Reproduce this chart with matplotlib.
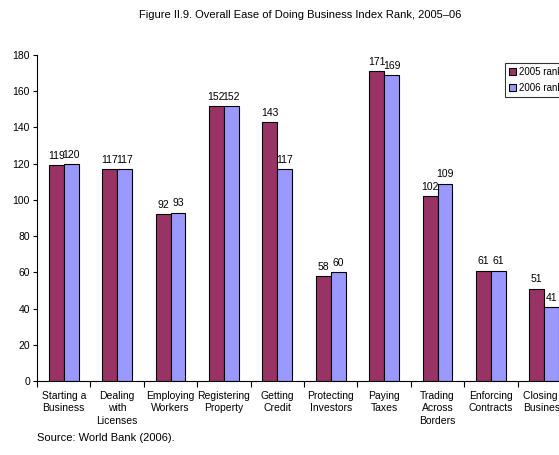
import numpy as np
import matplotlib
matplotlib.use("Agg")
from matplotlib import pyplot as plt

plt.rcParams['font.family'] = ['Liberation Sans', 'DejaVu Sans']

categories = ["Starting a\nBusiness", "Dealing\nwith\nLicenses", "Employing\nWorkers",
              "Registering\nProperty", "Getting\nCredit", "Protecting\nInvestors",
              "Paying\nTaxes", "Trading\nAcross\nBorders", "Enforcing\nContracts",
              "Closing a\nBusiness"]
rank_2005 = [119, 117, 92, 152, 143, 58, 171, 102, 61, 51]
rank_2006 = [120, 117, 93, 152, 117, 60, 169, 109, 61, 41]
series_names = ["2005 rank", "2006 rank"]
y_ticks = [0, 20, 40, 60, 80, 100, 120, 140, 160, 180]

W, H = 559, 455
fig = plt.figure(figsize=(W / 100, H / 100), dpi=100)
# axes run past the right edge of the figure, like the clipped original
left, right, top, bottom = 37, 571, 55, 381
ax = fig.add_axes([left / W, 1 - bottom / H, (right - left) / W, (bottom - top) / H])

x = np.arange(len(categories))
bw = 0.28
b1 = ax.bar(x - bw / 2, rank_2005, bw, color="#993366", edgecolor="black", linewidth=0.8,
            label=series_names[0])
b2 = ax.bar(x + bw / 2, rank_2006, bw, color="#9999FF", edgecolor="black", linewidth=0.8,
            label=series_names[1])
for bars in (b1, b2):
    for r in bars:
        ax.annotate(f"{int(r.get_height())}", (r.get_x() + r.get_width() / 2, r.get_height()),
                    xytext=(0, 3), textcoords="offset points", ha="center", va="bottom",
                    fontsize=7.5)

ax.set_xlim(-0.5, len(categories) - 0.5)
ax.set_ylim(0, 180)
ax.set_yticks(y_ticks)
ax.tick_params(axis="y", labelsize=7.5, length=3, width=0.8, direction="out", pad=2)

# category labels centred, tick marks at the group boundaries
ax.set_xticks(x)
ax.set_xticklabels(categories, fontsize=7.5, linespacing=1.3)
ax.tick_params(axis="x", which="major", length=0, pad=7)
ax.set_xticks(np.arange(len(categories) + 1) - 0.5, minor=True)
ax.tick_params(axis="x", which="minor", length=4, width=0.8, direction="out")

for s in ["top", "right"]:
    ax.spines[s].set_visible(False)
for s in ["left", "bottom"]:
    ax.spines[s].set_linewidth(0.8)

leg = ax.legend(loc="upper left", bbox_to_anchor=(505 / W, 1 - 63 / H),
                bbox_transform=fig.transFigure, fontsize=7, frameon=True,
                fancybox=False, edgecolor="black", handlelength=0.7, handleheight=0.7,
                handletextpad=0.3, borderpad=0.4, labelspacing=0.65, borderaxespad=0)
leg.get_frame().set_linewidth(0.8)

fig.text(300 / W, 1 - 15 / H, "Figure II.9. Overall Ease of Doing Business Index Rank, 2005\u201306",
         ha="center", va="center", fontsize=8)
fig.text(37 / W, 1 - 438 / H, "Source: World Bank (2006).", ha="left", va="center", fontsize=8)

fig.savefig("out.png", dpi=100)
